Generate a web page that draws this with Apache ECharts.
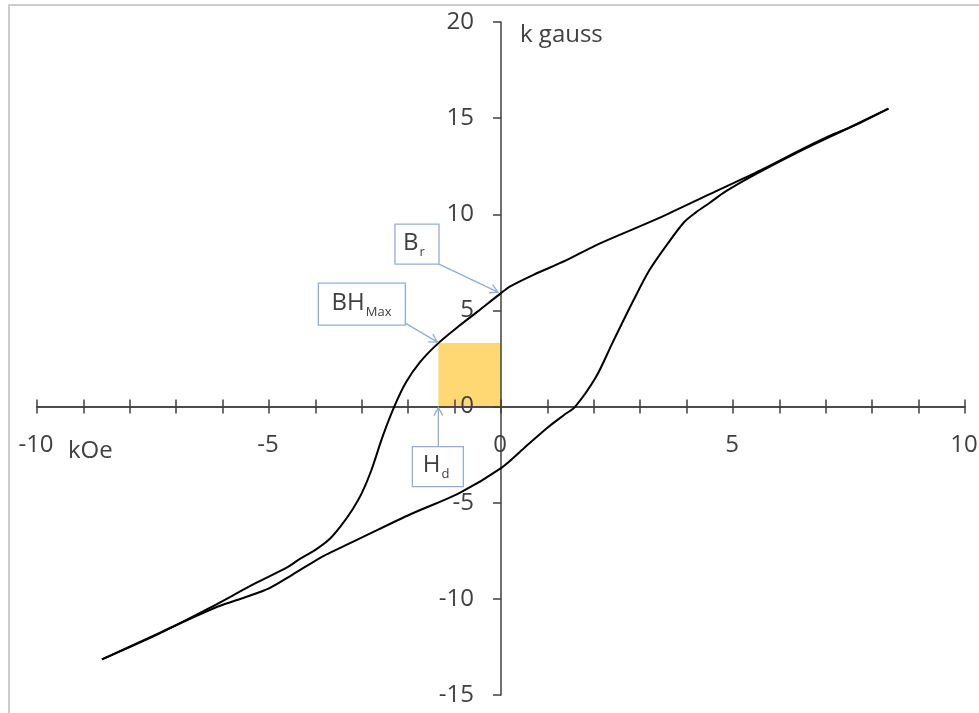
<!DOCTYPE html>
<html>
<head>
<meta charset="utf-8">
<script src="https://cdn.jsdelivr.net/npm/echarts@6/dist/echarts.min.js"></script>
<style>
  html, body { margin: 0; padding: 0; background: #ffffff; }
  #chart { width: 979px; height: 713px; }
</style>
</head>
<body>
<div id="chart"></div>
<script>
// Hysteresis loop of a permanent magnet: flux density B (k gauss) against field H (kOe).

// Branch traced while H falls from +saturation to -saturation: [H, B]
const descendingBranch = [
  [8.35, 15.5], [7.6, 14.6], [7.15, 14.15], [6.5, 13.4], [5.6, 12.3],
  [4.5, 11.05], [3.4, 9.8], [2.1, 8.45], [1.4, 7.6], [0.7, 6.85],
  [0.2, 6.25], [0, 5.9], [-0.5, 4.95], [-0.9, 4.2], [-1.35, 3.3],
  [-1.75, 2.3], [-2.05, 1.25], [-2.3, 0], [-2.55, -1.55], [-2.8, -3.35],
  [-3.0, -4.5], [-3.2, -5.35], [-3.45, -6.2], [-3.7, -6.9], [-4.0, -7.45],
  [-4.35, -7.95], [-4.6, -8.35], [-5.3, -9.2], [-6.3, -10.5], [-7.4, -11.85],
  [-8.6, -13.15]
];

// Branch traced while H rises back from -saturation to +saturation: [H, B]
const ascendingBranch = [
  [-8.6, -13.15], [-7.3, -11.7], [-6.1, -10.4], [-5.5, -9.9], [-5.0, -9.45],
  [-4.5, -8.75], [-3.85, -7.8], [-3.6, -7.5], [-2.95, -6.75], [-1.95, -5.6],
  [-0.9, -4.5], [0, -3.2], [0.5, -2.15], [1.0, -1.1], [1.35, -0.45],
  [1.6, 0], [2.05, 1.55], [2.4, 3.3], [2.85, 5.5], [3.2, 7.1],
  [3.6, 8.5], [3.95, 9.6], [4.2, 10.1], [4.5, 10.6], [4.85, 11.2],
  [5.5, 12.1], [6.5, 13.35], [7.5, 14.5], [8.35, 15.5]
];

// Axis ranges, steps and tick labels
const hRange = [-10, 10];
const bRange = [-15, 20];
const hTickStep = 1;
const bTickStep = 5;
const hTickLabels = [-10, -5, 0, 5, 10];
const bTickLabels = [-15, -10, -5, 0, 5, 10, 15, 20];

// Working point of maximum energy product on the demagnetisation curve: [Hd, Bd]
const bhMaxPoint = [-1.35, 3.3];
// Remanence: the descending branch at H = 0
const remanencePoint = descendingBranch.find(p => p[0] === 0);

const FONT = '"Open Sans", "Liberation Sans", sans-serif';
const TEXT = '#404040';
const AXIS = '#404040';
const CALLOUT = '#94ADD8';

const chart = echarts.init(document.getElementById('chart'), null, { renderer: 'canvas' });

function hAxis(position) {
  return {
    type: 'value',
    position: position,
    min: hRange[0],
    max: hRange[1],
    interval: hTickStep,
    z: 2,
    splitLine: { show: false },
    axisLabel: { show: false },
    axisLine: { onZero: true, onZeroAxisIndex: 0, lineStyle: { color: AXIS, width: 1.5 } },
    axisTick: { show: true, length: 7, lineStyle: { color: AXIS, width: 1.5 } }
  };
}

chart.setOption({
  animation: false,
  backgroundColor: '#ffffff',
  grid: { left: 37, right: 14, top: 22, bottom: 18, containLabel: false, outerBoundsMode: 'none' },
  // two H axes share the B = 0 line so the ticks cross it on both sides
  xAxis: [hAxis('bottom'), hAxis('top')],
  yAxis: {
    type: 'value',
    min: bRange[0],
    max: bRange[1],
    interval: bTickStep,
    z: 2,
    splitLine: { show: false },
    axisLabel: { show: false },
    axisLine: { onZero: true, onZeroAxisIndex: 0, lineStyle: { color: AXIS, width: 1.5 } },
    axisTick: { show: true, length: 8, lineStyle: { color: AXIS, width: 1.5 } }
  },
  series: [
    {
      // (BH)max rectangle between the working point and the origin
      type: 'custom',
      z: 1,
      silent: true,
      xAxisIndex: 0,
      yAxisIndex: 0,
      data: [[bhMaxPoint[0], 0, 0, bhMaxPoint[1]]],
      renderItem: function (params, api) {
        const p0 = api.coord([api.value(0), api.value(1)]);
        const p1 = api.coord([api.value(2), api.value(3)]);
        return {
          type: 'rect',
          shape: {
            x: Math.min(p0[0], p1[0]),
            y: Math.min(p0[1], p1[1]),
            width: Math.abs(p1[0] - p0[0]),
            height: Math.abs(p1[1] - p0[1])
          },
          style: { fill: '#FFD873' }
        };
      }
    },
    {
      name: 'descending',
      type: 'line',
      z: 3,
      xAxisIndex: 0,
      yAxisIndex: 0,
      data: descendingBranch,
      showSymbol: false,
      smooth: 0.3,
      lineStyle: { color: '#000000', width: 2 }
    },
    {
      name: 'ascending',
      type: 'line',
      z: 3,
      xAxisIndex: 0,
      yAxisIndex: 0,
      data: ascendingBranch,
      showSymbol: false,
      smooth: 0.3,
      lineStyle: { color: '#000000', width: 2 }
    }
  ]
});

// Labels and annotations placed through the axes' own scales
const toPx = p => chart.convertToPixel({ xAxisIndex: 0, yAxisIndex: 0 }, p);
const origin = toPx([0, 0]);

function arrow(from, to) {
  const dx = to[0] - from[0], dy = to[1] - from[1];
  const len = Math.hypot(dx, dy);
  const ux = dx / len, uy = dy / len;
  const nx = -uy, ny = ux;
  const h = 8, w = 4.5;
  return [
    { type: 'line', z: 10, shape: { x1: from[0], y1: from[1], x2: to[0], y2: to[1] },
      style: { stroke: CALLOUT, lineWidth: 1.3 } },
    { type: 'polyline', z: 10,
      shape: { points: [
        [to[0] - ux * h + nx * w, to[1] - uy * h + ny * w],
        [to[0], to[1]],
        [to[0] - ux * h - nx * w, to[1] - uy * h - ny * w]
      ] },
      style: { stroke: CALLOUT, lineWidth: 1.3, fill: null } }
  ];
}

function box(x, y, w, h, main, sub) {
  const mainWidth = echarts.format.getTextRect
    ? echarts.format.getTextRect(main, '24px ' + FONT).width
    : main.length * 15;
  const subWidth = sub.length * 7.5;
  const total = mainWidth + subWidth + 1;
  const tx = x + (w - total) / 2 - 2;
  return [
    { type: 'rect', z: 10, shape: { x: x, y: y, width: w, height: h },
      style: { fill: '#ffffff', stroke: CALLOUT, lineWidth: 1.3 } },
    { type: 'text', z: 11, x: tx, y: y + h / 2 - 1,
      style: { text: main, font: '24px ' + FONT, fill: TEXT, textVerticalAlign: 'middle' } },
    { type: 'text', z: 11, x: tx + mainWidth + 1, y: y + h / 2 + 8,
      style: { text: sub, font: '13px ' + FONT, fill: TEXT, textVerticalAlign: 'middle' } }
  ];
}

const br = toPx(remanencePoint);
const bh = toPx(bhMaxPoint);
const hd = toPx([bhMaxPoint[0], 0]);

const graphics = [
  // chart area frame
  { type: 'rect', z: 0, silent: true, shape: { x: 9, y: 5, width: 1000, height: 800 },
    style: { fill: null, stroke: '#bdbdbd', lineWidth: 1.5 } },
  // axis titles
  { type: 'text', z: 5, x: origin[0] + 19, y: toPx([0, bRange[1]])[1] + 13,
    style: { text: 'k gauss', font: '24px ' + FONT, fill: TEXT, textVerticalAlign: 'middle' } },
  { type: 'text', z: 5, x: toPx([hRange[0], 0])[0] + 31, y: origin[1] + 45,
    style: { text: 'kOe', font: '24px ' + FONT, fill: TEXT, textVerticalAlign: 'middle' } }
];

// H tick labels below the B = 0 line
hTickLabels.forEach(v => {
  const p = toPx([v, 0]);
  graphics.push({ type: 'text', z: 5, x: p[0] - 1, y: p[1] + 39,
    style: { text: String(v), font: '24px ' + FONT, fill: TEXT,
      textAlign: 'center', textVerticalAlign: 'middle' } });
});
// B tick labels left of the H = 0 line
bTickLabels.forEach(v => {
  const p = toPx([0, v]);
  graphics.push({ type: 'text', z: 5, x: p[0] - 27, y: p[1],
    style: { text: String(v), font: '24px ' + FONT, fill: TEXT,
      textAlign: 'right', textVerticalAlign: 'middle' } });
});

// Br callout
graphics.push(...box(br[0] - 106, br[1] - 69, 44, 40, 'B', 'r'));
graphics.push(...arrow([br[0] - 62, br[1] - 29], [br[0] - 3, br[1] - 1]));
// BHmax callout
graphics.push(...box(bh[0] - 120, bh[1] - 60, 87, 42, 'BH', 'Max'));
graphics.push(...arrow([bh[0] - 33, bh[1] - 20], [bh[0] - 1, bh[1] - 1]));
// Hd callout
graphics.push(...box(hd[0] - 26, hd[1] + 40, 51, 40, 'H', 'd'));
graphics.push(...arrow([hd[0], hd[1] + 40], [hd[0], hd[1] + 1]));

chart.setOption({ graphic: graphics });
</script>
</body>
</html>
